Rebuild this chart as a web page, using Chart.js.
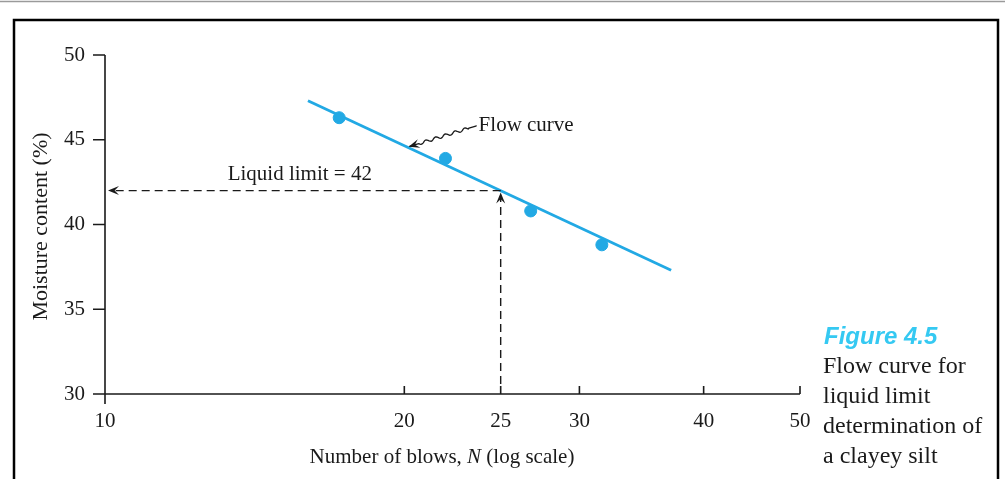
<!DOCTYPE html>
<html>
<head>
<meta charset="utf-8">
<script src="https://cdn.jsdelivr.net/npm/chart.js@4.4.1/dist/chart.umd.min.js"></script>
<style>
  html, body { margin: 0; padding: 0; background: #fff; }
  #wrap { width: 1005px; height: 479px; position: relative; }
</style>
</head>
<body>
<div id="wrap"><canvas id="flowChart" width="1005" height="479"></canvas></div>
<script>
// Liquid limit test: blows vs moisture content
const blows = [17.2, 22.0, 26.8, 31.6];
const moisture = [46.3, 43.9, 40.8, 38.8];
const flowCurveN = [16.0, 37.1];
const flowCurveW = [47.3, 37.3];
const xTicks = [10, 20, 25, 30, 40, 50];
const yTicks = [30, 35, 40, 45, 50];
const liquidLimitN = 25;
const liquidLimit = 42;
const flowLabelN = 20.2;
const limitLabelN = 15.7;

const serif = "'Liberation Serif', 'Times New Roman', serif";
const blue = "#22a9e4";
const ink = "#1a1a1a";

function flowAt(n) {
    const t = (Math.log10(n) - Math.log10(flowCurveN[0])) /
        (Math.log10(flowCurveN[1]) - Math.log10(flowCurveN[0]));
    return flowCurveW[0] + t * (flowCurveW[1] - flowCurveW[0]);
}

function arrowHead(c, tipX, tipY, angle, len, half) {
    c.save();
    c.translate(tipX, tipY);
    c.rotate(angle);
    c.beginPath();
    c.moveTo(0, 0);
    c.lineTo(-len, -half);
    c.lineTo(-len * 0.6, 0);
    c.lineTo(-len, half);
    c.closePath();
    c.fill();
    c.restore();
}

const decorations = {
    id: "decorations",
    afterDraw(chart) {
        const c = chart.ctx;
        const xs = chart.scales.x;
        const ys = chart.scales.y;
        const x0 = xs.getPixelForValue(10);
        const y0 = ys.getPixelForValue(30);

        c.save();
        // page frame
        c.strokeStyle = "#9a9a9a";
        c.lineWidth = 1.5;
        c.beginPath();
        c.moveTo(0, 1.5);
        c.lineTo(1005, 1.5);
        c.stroke();
        c.strokeStyle = "#000";
        c.lineWidth = 2.5;
        c.beginPath();
        c.moveTo(14, 479);
        c.lineTo(14, 20);
        c.lineTo(998, 20);
        c.lineTo(998, 479);
        c.stroke();

        // axes and tick marks
        c.strokeStyle = ink;
        c.lineWidth = 1.6;
        c.beginPath();
        c.moveTo(x0, ys.getPixelForValue(50));
        c.lineTo(x0, y0 + 10);
        c.moveTo(x0 - 12, y0);
        c.lineTo(xs.getPixelForValue(50), y0);
        yTicks.forEach(v => {
            const py = ys.getPixelForValue(v);
            c.moveTo(x0 - 12, py);
            c.lineTo(x0, py);
        });
        xTicks.slice(1).forEach(v => {
            const px = xs.getPixelForValue(v);
            c.moveTo(px, y0);
            c.lineTo(px, y0 - 8);
        });
        c.stroke();

        // liquid limit construction lines
        const lx = xs.getPixelForValue(liquidLimitN);
        const ly = ys.getPixelForValue(liquidLimit);
        c.fillStyle = ink;
        c.lineWidth = 1.4;
        c.setLineDash([8, 5]);
        c.beginPath();
        c.moveTo(lx, ly);
        c.lineTo(x0 + 8, ly);
        c.moveTo(lx, y0 - 10);
        c.lineTo(lx, ly + 8);
        c.stroke();
        c.setLineDash([]);
        arrowHead(c, x0 + 3, ly, Math.PI, 11, 4.5);
        arrowHead(c, lx, ly + 2, -Math.PI / 2, 11, 4.5);

        // flow curve callout with wavy leader
        const tipX = xs.getPixelForValue(flowLabelN);
        const tipY = ys.getPixelForValue(flowAt(flowLabelN)) - 1;
        const endX = tipX + 68;
        const endY = tipY - 21;
        const dx = endX - tipX, dy = endY - tipY;
        const L = Math.hypot(dx, dy);
        const nx = -dy / L, ny = dx / L;
        c.lineWidth = 1.3;
        c.beginPath();
        for (let i = 0; i <= 80; i++) {
            const t = i / 80;
            const amp = (t < 0.15 || t > 0.88) ? 0 : 1.4 * Math.sin((t - 0.15) * Math.PI * 14);
            const px = tipX + dx * t + nx * amp;
            const py = tipY + dy * t + ny * amp;
            if (i === 0) c.moveTo(px + dx * 0.05, py + dy * 0.05); else c.lineTo(px, py);
        }
        c.stroke();
        arrowHead(c, tipX, tipY, Math.atan2(-dy, -dx), 11, 4.5);

        c.font = "21px " + serif;
        c.textBaseline = "middle";
        c.textAlign = "left";
        c.fillText("Flow curve", endX + 2, endY);

        c.textAlign = "center";
        c.fillText("Liquid limit = 42", xs.getPixelForValue(limitLabelN), ly - 16);

        // axis titles
        c.save();
        c.translate(41, (ys.top + ys.bottom) / 2 + 2);
        c.rotate(-Math.PI / 2);
        c.font = "22px " + serif;
        c.fillText("Moisture content (%)", 0, 0);
        c.restore();

        const partA = "Number of blows, ";
        const partN = "N";
        const partB = " (log scale)";
        c.font = "21px " + serif;
        const wA = c.measureText(partA).width;
        const wB = c.measureText(partB).width;
        c.font = "italic 21px " + serif;
        const wN = c.measureText(partN).width;
        let tx = 442 - (wA + wN + wB) / 2;
        const ty = 457;
        c.textAlign = "left";
        c.font = "21px " + serif;
        c.fillText(partA, tx, ty);
        tx += wA;
        c.font = "italic 21px " + serif;
        c.fillText(partN, tx, ty);
        tx += wN;
        c.font = "21px " + serif;
        c.fillText(partB, tx, ty);

        // figure caption
        c.fillStyle = "#35c9f2";
        c.font = "italic bold 24px 'Liberation Sans', Arial, sans-serif";
        c.fillText("Figure 4.5", 824, 337);
        c.fillStyle = ink;
        c.font = "24px " + serif;
        ["Flow curve for", "liquid limit", "determination of", "a clayey silt"]
            .forEach((line, i) => c.fillText(line, 823, 367 + i * 30));
        c.restore();
    }
};

new Chart(document.getElementById("flowChart"), {
    type: "scatter",
    data: {
        datasets: [
            {
                type: "line",
                label: "Flow curve",
                data: flowCurveN.map((n, i) => ({ x: n, y: flowCurveW[i] })),
                borderColor: blue,
                borderWidth: 2.8,
                pointRadius: 0,
                fill: false,
                order: 2
            },
            {
                label: "Tests",
                data: blows.map((n, i) => ({ x: n, y: moisture[i] })),
                backgroundColor: blue,
                borderColor: blue,
                pointRadius: 6,
                order: 1
            }
        ]
    },
    options: {
        responsive: false,
        animation: false,
        layout: { padding: { left: 0, top: 55, right: 205, bottom: 0 } },
        plugins: {
            legend: { display: false },
            tooltip: { enabled: false }
        },
        scales: {
            x: {
                type: "logarithmic",
                min: 10,
                max: 50,
                grid: { display: false, drawTicks: false },
                border: { display: false },
                afterBuildTicks: scale => { scale.ticks = xTicks.map(v => ({ value: v })); },
                afterFit: scale => { scale.height = 85; },
                ticks: {
                    autoSkip: false,
                    maxRotation: 0,
                    padding: 15,
                    color: ink,
                    font: { family: serif, size: 21 },
                    callback: v => String(v)
                }
            },
            y: {
                min: 30,
                max: 50,
                grid: { display: false, drawTicks: false },
                border: { display: false },
                afterBuildTicks: scale => { scale.ticks = yTicks.map(v => ({ value: v })); },
                afterFit: scale => { scale.width = 105; },
                ticks: {
                    padding: 20,
                    color: ink,
                    font: { family: serif, size: 21 }
                }
            }
        }
    },
    plugins: [decorations]
});
</script>
</body>
</html>
